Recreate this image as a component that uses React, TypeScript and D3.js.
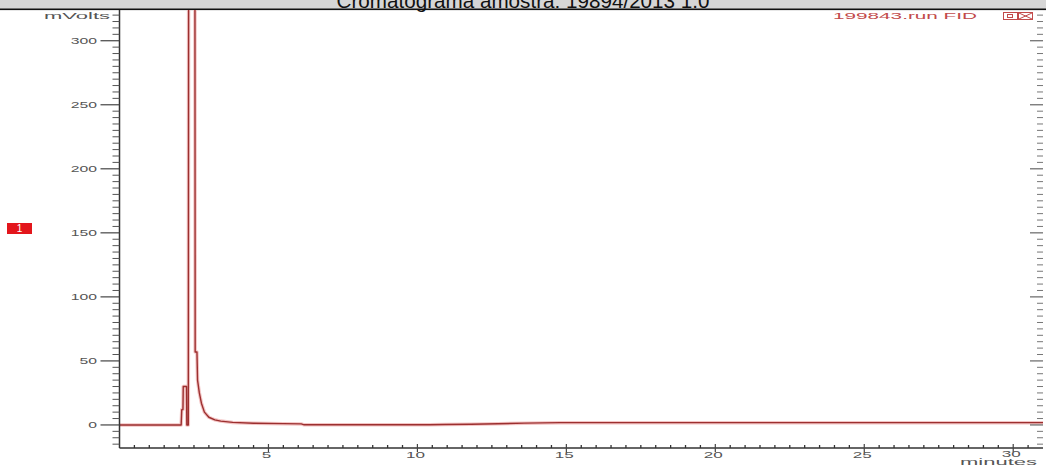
import React from "react";
import * as d3 from "d3";

const titleText = "Cromatograma amostra: 19894/2013 1.0";
const traceLabel = "199843.run FID";
const yAxisLabel = "mVolts";
const xAxisLabel = "minutes";

const timeMin = [
  0, 2.07, 2.09, 2.13, 2.14, 2.25, 2.26, 2.31, 2.33, 2.40, 2.52, 2.54, 2.60,
  2.62, 2.68, 2.75, 2.85, 3.0, 3.2, 3.4, 3.8, 4.5, 5.5, 6.1, 6.2, 8.0, 10.4,
  10.9, 11.8, 12.7, 13.6, 14.8, 17.0, 20.0, 25.0, 31.0,
];
const signalMv = [
  0, 0, 12, 12, 30, 30, 0, 0, 700, 1000, 800, 57, 57,
  35, 25, 17, 10, 6, 4, 3, 2, 1.3, 1.0, 0.8, 0.1, 0.1, 0.1,
  0.3, 0.6, 0.9, 1.4, 1.8, 1.8, 1.8, 1.8, 1.8,
];

const yTickValues = [0, 50, 100, 150, 200, 250, 300];
const xTickValues = [5, 10, 15, 20, 25, 30];

const W = 1046;
const H = 468;
const plotLeft = 119.5;
const plotRight = 1043;
const plotTop = 10;
const plotBottom = 448;

export default function App() {
  const x = d3.scaleLinear().domain([0, 31]).range([plotLeft, plotRight]);
  const y = d3.scaleLinear().domain([-18, 324]).range([plotBottom, plotTop]);

  const pts: [number, number][] = timeMin.map((t, i) => [t, signalMv[i]]);
  const line = d3
    .line<[number, number]>()
    .x((d) => x(d[0]))
    .y((d) => y(d[1]))
    .curve(d3.curveLinear);
  const path = line(pts) || "";

  const yMinor = d3.range(-15, 321, 5).filter((v) => v % 50 !== 0);
  const xMinor = d3.range(0.5, 31, 0.5).filter((v) => v % 5 !== 0);

  const labelFont = "'Liberation Sans', Arial, sans-serif";
  const labelFill = "#555";

  return (
    <svg
      width={W}
      height={H}
      viewBox={`0 0 ${W} ${H}`}
      style={{ position: "absolute", left: 0, top: 0, display: "block", background: "#fff" }}
    >
      <defs>
        <clipPath id="plotClip">
          <rect x={plotLeft} y={plotTop} width={plotRight - plotLeft} height={plotBottom - plotTop} />
        </clipPath>
      </defs>

      {/* title bar */}
      <rect x={0} y={0} width={W} height={9} fill="#d6d6d6" />
      <text
        x={W / 2}
        y={7.5}
        textAnchor="middle"
        fontFamily={labelFont}
        fontSize={20.5}
        fill="#111"
        textLength={373}
        lengthAdjust="spacingAndGlyphs"
      >
        {titleText}
      </text>
      <rect x={0} y={8.5} width={W} height={1.6} fill="#111" />

      {/* trace signal */}
      <g clipPath="url(#plotClip)">
        <path d={path} fill="none" stroke="#f3c4c4" strokeWidth={3.5} strokeLinejoin="round" />
        <path d={path} fill="none" stroke="#9c2f2f" strokeWidth={1.4} strokeLinejoin="round" />
      </g>

      {/* left y axis */}
      <line x1={plotLeft} x2={plotLeft} y1={plotTop} y2={plotBottom} stroke="#333" strokeWidth={1.5} />
      {yMinor.map((v) => (
        <line key={"ym" + v} x1={plotLeft - 7} x2={plotLeft} y1={y(v)} y2={y(v)} stroke="#555" strokeWidth={1} />
      ))}
      {yTickValues.map((v) => (
        <g key={"yt" + v}>
          <line x1={plotLeft - 19} x2={plotLeft} y1={y(v)} y2={y(v)} stroke="#444" strokeWidth={1.2} />
          <text
            transform={`translate(97,${y(v) + 3}) scale(1.75,1)`}
            textAnchor="end"
            fontFamily={labelFont}
            fontSize={9}
            fill={labelFill}
          >
            {v}
          </text>
        </g>
      ))}
      <text
        x={44}
        y={19}
        fontFamily={labelFont}
        fontSize={9}
        fill={labelFill}
        textLength={66}
        lengthAdjust="spacingAndGlyphs"
      >
        {yAxisLabel}
      </text>

      {/* right ticks */}
      {yMinor.map((v) => (
        <line key={"rm" + v} x1={plotRight - 6} x2={plotRight} y1={y(v)} y2={y(v)} stroke="#777" strokeWidth={1} />
      ))}
      {yTickValues.map((v) => (
        <line key={"rt" + v} x1={plotRight - 13} x2={plotRight} y1={y(v)} y2={y(v)} stroke="#666" strokeWidth={1.2} />
      ))}

      {/* x axis */}
      <line x1={plotLeft} x2={plotRight} y1={plotBottom} y2={plotBottom} stroke="#333" strokeWidth={1.5} />
      {xMinor.map((v) => (
        <line key={"xm" + v} x1={x(v)} x2={x(v)} y1={plotBottom - 3} y2={plotBottom} stroke="#333" strokeWidth={1.3} />
      ))}
      {xTickValues.map((v) => (
        <g key={"xt" + v}>
          <line x1={x(v)} x2={x(v)} y1={plotBottom - 4} y2={plotBottom + 4} stroke="#444" strokeWidth={1.2} />
          <text
            transform={`translate(${x(v) - 2},${v === 30 ? 457 : 458}) scale(1.9,1)`}
            textAnchor="middle"
            fontFamily={labelFont}
            fontSize={9}
            fill={labelFill}
          >
            {v}
          </text>
        </g>
      ))}
      <text
        x={960}
        y={465}
        fontFamily={labelFont}
        fontSize={9}
        fill={labelFill}
        textLength={77}
        lengthAdjust="spacingAndGlyphs"
      >
        {xAxisLabel}
      </text>

      {/* trace label and icons */}
      <text
        x={833}
        y={19}
        fontFamily={labelFont}
        fontSize={9}
        fill="#c24a4a"
        textLength={144}
        lengthAdjust="spacingAndGlyphs"
      >
        {traceLabel}
      </text>
      <rect x={1003.5} y={12.5} width={14} height={7} fill="none" stroke="#c24a4a" strokeWidth={1} />
      <rect x={1007.5} y={14.5} width={5} height={3} fill="none" stroke="#c24a4a" strokeWidth={1} />
      <rect x={1018.5} y={12.5} width={14} height={7} fill="none" stroke="#c24a4a" strokeWidth={1} />
      <line x1={1019} y1={13} x2={1032} y2={19} stroke="#c24a4a" strokeWidth={1} />
      <line x1={1019} y1={19} x2={1032} y2={13} stroke="#c24a4a" strokeWidth={1} />

      {/* trace marker */}
      <rect x={7} y={223} width={25} height={11} fill="#e3161c" />
      <text x={19.5} y={232} textAnchor="middle" fontFamily={labelFont} fontSize={10} fill="#fff">
        1
      </text>
    </svg>
  );
}
